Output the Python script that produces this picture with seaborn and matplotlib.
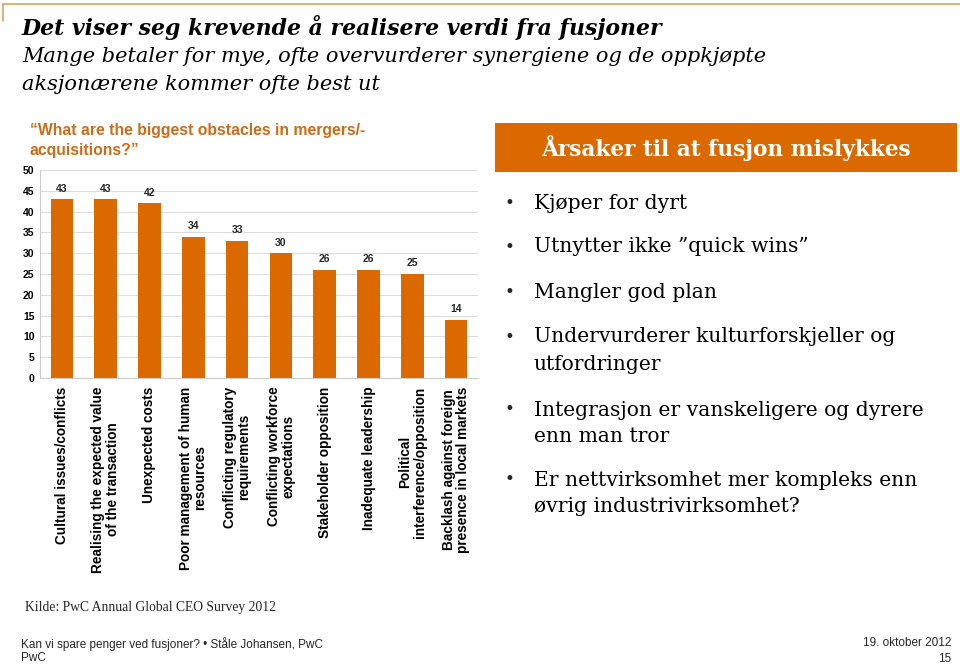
import numpy as np
import pandas as pd
import matplotlib
matplotlib.use("Agg")
import matplotlib.pyplot as plt
import seaborn as sns
from matplotlib.patches import Rectangle
from matplotlib.lines import Line2D

# ---------------- data ----------------
categories = [
    "Cultural issues/conflicts",
    "Realising the expected value\nof the transaction",
    "Unexpected costs",
    "Poor management of human\nresources",
    "Conflicting regulatory\nrequirements",
    "Conflicting workforce\nexpectations",
    "Stakeholder opposition",
    "Inadequate leadership",
    "Political\ninterference/opposition",
    "Backlash against foreign\npresence in local markets",
]
values = [43, 43, 42, 34, 33, 30, 26, 26, 25, 14]
y_ticks = [0, 5, 10, 15, 20, 25, 30, 35, 40, 45, 50]

title = "Det viser seg krevende å realisere verdi fra fusjoner"
subtitle = ["Mange betaler for mye, ofte overvurderer synergiene og de oppkjøpte",
            "aksjonærene kommer ofte best ut"]
question = ["\u201cWhat are the biggest obstacles in mergers/-",
            "acquisitions?\u201d"]
panel_title = "Årsaker til at fusjon mislykkes"
bullets = [
    ["Kjøper for dyrt"],
    ["Utnytter ikke \u201dquick wins\u201d"],
    ["Mangler god plan"],
    ["Undervurderer kulturforskjeller og", "utfordringer"],
    ["Integrasjon er vanskeligere og dyrere", "enn man tror"],
    ["Er nettvirksomhet mer kompleks enn", "øvrig industrivirksomhet?"],
]
source = "Kilde: PwC Annual Global CEO Survey 2012"
footer_left = ["Kan vi spare penger ved fusjoner? \u2022 Ståle Johansen, PwC", "PwC"]
footer_right = ["19. oktober 2012", "15"]

# ---------------- style ----------------
sns.set_theme(style="white")
plt.rcParams['font.family'] = ['Liberation Sans', 'DejaVu Sans']

ORANGE = "#dc6900"
Q_ORANGE = "#d06a16"
W, H = 960, 665
fig = plt.figure(figsize=(9.6, 6.65), dpi=100)
fig.patch.set_facecolor("white")

def fx(x):
    return x / W

def fy(y):
    return 1 - y / H

# top border
fig.add_artist(Line2D([fx(3), fx(960)], [fy(4), fy(4)], color="#d9a45a", lw=1.2))
fig.add_artist(Line2D([fx(3), fx(3)], [fy(4), fy(21)], color="#d9a45a", lw=1.2))

# titles
serif = ['DejaVu Serif']
fig.text(fx(22), fy(27), title, family=serif, fontsize=15.8, fontweight='bold',
         fontstyle='italic', va='center', ha='left', color='black')
fig.text(fx(22), fy(57), subtitle[0], family=serif, fontsize=15, fontstyle='italic',
         va='center', ha='left', color='black')
fig.text(fx(22), fy(84), subtitle[1], family=serif, fontsize=15, fontstyle='italic',
         va='center', ha='left', color='black')

fig.text(fx(30), fy(130), question[0], fontsize=11.3, fontweight='bold', color=Q_ORANGE,
         va='center', ha='left')
fig.text(fx(30), fy(151), question[1], fontsize=11.3, fontweight='bold', color=Q_ORANGE,
         va='center', ha='left')

# ---------------- bar chart ----------------
ax = fig.add_axes([fx(40), fy(378), fx(478) - fx(40), fy(170) - fy(378)])
df = pd.DataFrame({"category": categories, "value": values})
sns.barplot(data=df, x="category", y="value", color=ORANGE, saturation=1,
            width=0.52, ax=ax, edgecolor='none')
ax.set_xlim(-0.5, len(categories) - 0.5)
ax.set_ylim(0, 50)
ax.set_yticks(y_ticks)
ax.set_yticklabels([str(v) for v in y_ticks], fontsize=7.5, fontweight='bold')
ax.tick_params(axis='y', length=0, pad=4, colors='black')
ax.yaxis.grid(True, color="#dcdcdc", lw=0.8)
ax.set_axisbelow(True)
ax.set_xlabel("")
ax.set_ylabel("")
for s in ['top', 'right']:
    ax.spines[s].set_visible(False)
for s in ['left', 'bottom']:
    ax.spines[s].set_color("#cccccc")
    ax.spines[s].set_linewidth(0.8)
ax.set_xticks(range(len(categories)))
ax.set_xticklabels(categories, rotation=90, fontsize=9.8, fontweight='bold',
                   ha='center', va='top', multialignment='center', linespacing=1.05)
ax.tick_params(axis='x', length=0, pad=6, colors='black')
ax.set_xticks(np.arange(-0.5, len(categories), 1.0), minor=True)
ax.tick_params(axis='x', which='minor', length=4, color="#cccccc", width=0.8)
ax.bar_label(ax.containers[0], labels=[str(v) for v in values], padding=4,
             fontsize=7.5, fontweight='bold')

# ---------------- right panel ----------------
fig.add_artist(Rectangle((fx(495), fy(172)), fx(957) - fx(495), fy(123) - fy(172),
                         facecolor=ORANGE, edgecolor='none'))
fig.text(fx(726), fy(148), panel_title, family=serif, fontsize=15.6, fontweight='bold',
         color='white', ha='center', va='center')

bullet_y = [203, 247, 292, 337, 410, 480]
line_gap = 27
for by, lines in zip(bullet_y, bullets):
    fig.text(fx(509), fy(by), "\u2022", family=serif, fontsize=12, ha='center', va='center')
    for i, ln in enumerate(lines):
        fig.text(fx(534), fy(by + i * line_gap), ln, family=serif, fontsize=14.6,
                 ha='left', va='center', color='black')

# ---------------- source & footer ----------------
fig.text(fx(25), fy(607), source, family=['Liberation Serif'], fontsize=9.8,
         ha='left', va='center')
fig.text(fx(21), fy(644), footer_left[0], fontsize=8.5, ha='left', va='center')
fig.text(fx(21), fy(658), footer_left[1], fontsize=8.5, ha='left', va='center')
fig.text(fx(951), fy(643), footer_right[0], fontsize=8.5, ha='right', va='center')
fig.text(fx(951), fy(659), footer_right[1], fontsize=8.5, ha='right', va='center')

fig.savefig("out.png", dpi=100)
